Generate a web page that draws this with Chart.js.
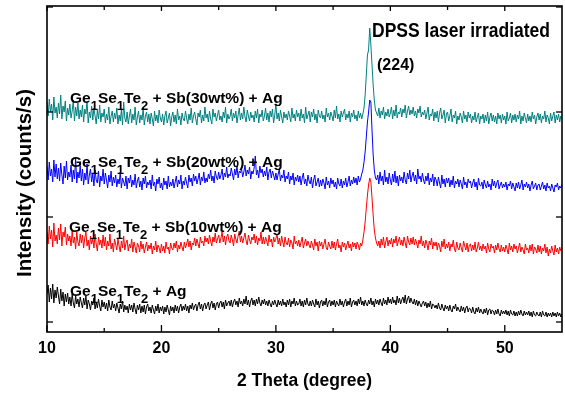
<!DOCTYPE html>
<html>
<head>
<meta charset="utf-8">
<script src="https://cdn.jsdelivr.net/npm/chart.js@4/dist/chart.umd.min.js"></script>
<style>
  html, body { margin: 0; padding: 0; background: #fff; }
  #wrap { width: 565px; height: 398px; }
</style>
</head>
<body>
<div id="wrap"><canvas id="c" width="565" height="398"></canvas></div>
<script>
// ---- Data ----
const xMajorTicks = [10, 20, 30, 40, 50];
const xTickLabels = ["10", "20", "30", "40", "50"];
const xMinorTicks = [15, 25, 35, 45];
const yTicks = [0, 1050, 2100, 3150];
// 2-theta sampling grid: 10.0 to 55.0 in 0.1 degree steps
const twoTheta = Array.from({ length: 451 }, (_, i) => +(10 + i * 0.1).toFixed(1));

const seriesNames = ["Ge1Se1Te2 + Ag", "Ge1Se1Te2 + Sb(10wt%) + Ag", "Ge1Se1Te2 + Sb(20wt%) + Ag", "Ge1Se1Te2 + Sb(30wt%) + Ag"];

const sb30 = [
2200,2060,2230,2100,2180,2020,2250,2090,2150,2040,
2190,2080,2270,2030,2160,2100,2210,2010,2140,2070,
2180,2040,2110,2220,2010,2150,2060,2190,2030,2120,
2050,2170,2000,2130,2080,2210,1990,2100,2040,2160,
2020,2140,2060,1980,2120,2030,2170,2000,2090,2050,
2130,1990,2080,2020,2150,1980,2060,2110,2000,2090,
2030,2140,1980,2070,2010,2120,1970,2200,2040,2000,
2100,1980,2060,2130,1990,2080,2020,2150,1970,2050,
2110,1990,2070,2020,2140,1970,2060,2100,2000,2080,
1980,2090,2030,1960,2110,2010,2070,1990,2120,2040,
2000,2080,1970,2060,2110,1990,2040,2090,1960,2050,
2100,2000,2070,1980,2130,2020,2060,1970,2090,2030,
2010,2110,2040,1980,2080,2020,2140,1990,2060,2100,
2030,1970,2090,2050,2120,1990,2070,2010,2150,2040,
2080,2000,2110,2030,1980,2130,2050,2090,2010,2070,
2120,2020,2060,2000,2100,2040,2150,1990,2080,2030,
2060,2130,2010,2090,2040,2110,1990,2070,2140,2020,
2090,2030,2150,2050,2000,2120,2060,2010,2100,2040,
2070,2000,2110,2040,2130,1990,2080,2050,2120,2010,
2060,2140,2020,2090,2000,2110,2050,2130,1990,2070,
2180,2030,2090,2010,2120,2050,1990,2100,2040,2080,
2020,2110,2060,2000,2140,2040,2080,2010,2120,2050,
2090,2010,2130,2040,2080,1990,2150,2030,2070,2110,
2000,2100,2050,2130,2020,2080,1990,2120,2060,2040,
2110,2030,2070,2000,2140,2050,2090,2020,2100,2060,
2010,2120,2040,2160,2030,2080,2000,2110,2050,2090,
2130,2020,2080,2040,2110,2000,2090,2050,2120,2030,
2070,2010,2110,2040,2090,2030,2080,2140,2270,2470,
2670,2720,2940,2770,2570,2370,2220,2120,2090,2060,
2140,2040,2110,2070,2150,2030,2100,2060,2130,2050,
2090,2150,2030,2120,2060,2170,2040,2100,2080,2140,
2050,2130,2090,2170,2040,2110,2160,2070,2120,2080,
2150,2060,2110,2040,2130,2090,2160,2050,2100,2070,
2120,2030,2090,2150,2020,2080,2060,2130,2010,2100,
2040,2110,2000,2090,2140,2030,2070,2120,1990,2080,
2100,2010,2060,2130,2000,2070,2040,2110,1980,2060,
2020,2090,2050,1990,2110,2030,2070,2000,2100,2040,
2080,1990,2060,2020,2100,2000,2050,2090,1980,2060,
2030,2080,1990,2070,2010,2100,1980,2050,2090,2010,
2070,2000,2060,1980,2090,2030,2070,1990,2080,2020,
2060,1980,2100,2010,2040,2090,1990,2070,2020,2080,
2000,2070,2030,2110,1980,2060,2010,2090,2040,1990,
2080,2010,2060,2000,2100,2030,2070,1980,2050,2090,
2020,2080,1990,2060,2030,2110,2000,2070,2040,1980,
2090,2010,2060,2100,1990,2070,2020,2080,2000,2060,
2030];

const sb20 = [
1560,1420,1600,1460,1530,1400,1620,1450,1580,1430,
1540,1410,1590,1470,1380,1560,1440,1610,1420,1500,
1450,1570,1400,1520,1430,1640,1390,1500,1440,1560,
1410,1530,1370,1490,1420,1580,1380,1470,1530,1400,
1480,1360,1520,1420,1390,1510,1350,1460,1410,1530,
1380,1490,1420,1340,1470,1400,1510,1360,1450,1390,
1470,1350,1430,1380,1500,1340,1440,1400,1360,1460,
1330,1440,1390,1470,1350,1420,1370,1480,1340,1410,
1450,1350,1410,1320,1440,1380,1460,1340,1400,1370,
1420,1330,1470,1360,1400,1310,1430,1380,1450,1340,
1390,1320,1440,1370,1410,1330,1460,1350,1400,1360,
1430,1340,1400,1460,1350,1420,1380,1470,1330,1410,
1370,1450,1390,1340,1470,1400,1440,1360,1480,1410,
1460,1380,1430,1490,1370,1450,1410,1500,1390,1440,
1400,1480,1430,1520,1410,1460,1390,1510,1450,1420,
1500,1430,1470,1530,1420,1490,1450,1550,1440,1480,
1460,1540,1480,1420,1530,1470,1560,1440,1510,1490,
1530,1450,1500,1570,1460,1520,1480,1550,1430,1510,
1480,1540,1660,1470,1520,1440,1560,1490,1530,1450,
1510,1460,1550,1420,1500,1530,1440,1510,1470,1420,
1490,1420,1480,1530,1410,1470,1440,1520,1400,1460,
1430,1500,1380,1460,1420,1490,1370,1450,1410,1470,
1400,1460,1370,1440,1490,1380,1430,1360,1470,1410,
1380,1450,1340,1420,1470,1360,1400,1440,1350,1420,
1360,1430,1390,1330,1450,1370,1410,1340,1440,1380,
1420,1350,1400,1330,1440,1380,1360,1430,1340,1410,
1370,1440,1350,1400,1460,1360,1420,1380,1450,1390,
1440,1370,1460,1400,1430,1480,1520,1600,1700,1850,
2000,2100,2220,2200,1920,1670,1520,1440,1420,1470,
1380,1500,1410,1460,1370,1520,1400,1450,1380,1490,
1420,1370,1480,1400,1510,1390,1460,1360,1470,1410,
1450,1390,1500,1420,1380,1490,1430,1520,1400,1460,
1500,1410,1470,1380,1530,1430,1460,1400,1490,1420,
1380,1460,1410,1490,1370,1440,1400,1480,1360,1450,
1420,1360,1450,1390,1340,1470,1380,1430,1350,1440,
1390,1440,1350,1420,1370,1460,1340,1410,1380,1430,
1350,1420,1380,1330,1450,1370,1400,1340,1430,1390,
1410,1340,1390,1430,1350,1400,1320,1440,1370,1360,
1400,1330,1420,1370,1340,1410,1350,1380,1320,1430,
1360,1410,1340,1390,1420,1330,1370,1400,1340,1380,
1350,1400,1320,1380,1360,1410,1330,1390,1350,1310,
1390,1340,1400,1330,1370,1420,1320,1380,1350,1400,
1340,1380,1310,1370,1410,1330,1360,1390,1320,1370,
1380,1320,1360,1400,1330,1370,1310,1390,1340,1360,
1310,1380,1340,1300,1370,1350,1390,1320,1360,1340,
1380];

const sb10 = [
900,780,960,830,920,750,990,810,870,780,
940,820,980,760,900,850,950,770,880,810,
860,760,910,790,850,730,900,800,760,880,
790,870,740,840,900,760,820,720,860,780,
830,740,880,780,710,850,770,820,740,870,
760,850,720,810,760,880,730,790,700,830,
780,720,830,760,700,810,740,860,720,790,
820,710,780,740,830,700,800,750,690,790,
760,700,810,730,780,690,750,800,710,770,
730,790,680,760,720,810,700,770,740,690,
780,710,760,690,800,730,750,680,790,740,
720,790,740,810,700,770,730,800,750,710,
800,740,780,830,750,810,720,790,770,840,
760,830,780,740,850,790,810,760,860,800,
840,780,870,810,760,850,800,890,790,830,
870,790,840,900,800,860,770,850,880,810,
790,870,820,760,880,830,790,860,910,800,
860,790,840,890,810,770,870,820,780,850,
820,880,790,860,770,840,810,900,780,850,
780,850,810,760,870,800,830,750,850,800,
830,880,780,840,760,860,800,750,850,790,
770,840,750,820,790,730,860,780,810,760,
820,750,800,850,740,790,830,760,810,770,
740,810,770,720,830,760,800,710,810,760,
800,730,780,830,740,720,800,760,730,810,
740,800,720,780,830,740,770,700,800,750,
790,720,770,810,740,780,710,800,750,790,
730,800,770,720,790,760,820,900,1000,1140,
1270,1370,1440,1400,1240,1070,920,840,790,760,
810,740,830,770,850,740,800,850,760,820,
780,840,750,830,790,860,760,810,850,770,
820,760,850,790,740,860,800,770,840,780,
850,770,830,790,740,820,780,860,760,810,
740,820,780,720,810,770,840,730,800,760,
800,720,790,760,700,810,750,830,730,780,
740,800,710,780,750,820,730,700,800,740,
720,790,740,700,810,760,720,790,700,770,
780,710,770,720,800,700,740,800,720,760,
710,780,730,760,690,790,730,700,780,740,
760,690,770,720,790,730,700,770,710,750,
700,770,730,680,790,720,760,700,780,730,
760,690,740,790,700,750,720,680,780,720,
740,690,770,710,780,680,750,730,690,770,
700,760,680,740,710,780,690,750,660,730,
690,760,710,670,770,700,740,680,750,710,
740];

const agOnly = [
280,370,200,340,230,380,190,320,240,350,
260,180,330,210,300,160,280,200,290,180,
250,160,280,190,140,260,180,230,150,250,
190,140,240,170,260,130,220,180,120,210,
170,240,130,200,140,230,160,110,220,150,
200,130,190,110,220,150,120,210,140,180,
110,190,140,90,180,130,210,100,170,120,
160,90,180,120,170,100,190,130,80,170,
120,180,90,160,100,170,80,150,180,110,
150,90,170,120,80,160,110,180,90,150,
110,160,80,150,100,170,120,70,160,110,
150,90,170,110,160,90,150,180,110,160,
120,180,110,160,90,170,130,190,120,160,
180,110,170,200,130,180,110,170,190,130,
170,200,120,180,210,140,190,120,180,200,
140,190,210,150,200,130,220,160,190,210,
160,220,150,200,230,170,210,150,240,180,
210,160,230,180,260,170,220,150,210,240,
170,220,160,230,180,250,190,160,220,180,
230,170,210,160,220,180,150,210,170,220,
180,150,220,170,210,160,230,170,200,150,
220,170,230,150,210,180,240,160,210,170,
180,230,160,210,150,220,170,240,180,160,
210,160,220,180,150,230,170,210,140,200,
220,160,210,170,240,150,200,220,160,210,
170,220,150,210,180,160,230,170,210,150,
200,230,160,210,170,240,150,200,220,170,
210,160,230,180,250,170,210,160,220,180,
160,220,180,240,170,210,150,230,180,220,
170,230,190,160,240,180,220,170,250,190,
230,180,250,190,220,170,260,190,240,180,
220,250,190,270,180,230,260,190,240,200,
180,230,170,220,160,210,180,150,190,210,
160,200,140,190,150,210,130,180,170,140,
170,130,190,140,120,180,140,110,170,130,
160,110,170,120,100,160,130,180,110,150,
120,100,160,110,150,90,140,160,100,140,
130,90,150,100,80,140,100,150,90,130,
100,80,130,90,140,70,120,130,80,120,
110,70,120,80,130,80,60,120,80,110,
80,120,70,110,60,120,80,70,110,60,
100,60,110,70,120,80,60,110,70,100,
70,110,60,100,50,110,70,60,100,70,
60,100,50,110,70,60,100,50,90,60,
90,50,100,60,90,50,100,60,90,50,
80];

const FONT = '"Liberation Sans", Arial, Helvetica, sans-serif';
Chart.defaults.font.family = FONT;
Chart.defaults.color = '#000';

function pts(vals) {
  const n = Math.min(vals.length, twoTheta.length);
  const out = [];
  for (let i = 0; i < n; i++) out.push({ x: twoTheta[i], y: vals[i] });
  return out;
}

// label texts: [text, isSubscript]
const labelParts = [
  [["Ge",0],["1",1],["Se",0],["1",1],["Te",0],["2",1],[" + Ag",0]],
  [["Ge",0],["1",1],["Se",0],["1",1],["Te",0],["2",1],[" + Sb(10wt%) + Ag",0]],
  [["Ge",0],["1",1],["Se",0],["1",1],["Te",0],["2",1],[" + Sb(20wt%) + Ag",0]],
  [["Ge",0],["1",1],["Se",0],["1",1],["Te",0],["2",1],[" + Sb(30wt%) + Ag",0]]
];
const labelPos = [[70, 296], [69, 232], [70, 167], [70, 103]];

const decor = {
  id: 'decor',
  afterDatasetsDraw(chart) {
    const { ctx, chartArea: a, scales: { x, y } } = chart;
    ctx.save();
    ctx.fillStyle = '#000';
    // series labels
    ctx.textBaseline = 'alphabetic';
    ctx.textAlign = 'left';
    labelParts.forEach((parts, k) => {
      let [px, py] = labelPos[k];
      parts.forEach(([t, sub]) => {
        ctx.font = sub ? 'bold 13px ' + FONT : 'bold 15.5px ' + FONT;
        ctx.fillText(t, px, sub ? py + 6.5 : py);
        px += ctx.measureText(t).width;
      });
    });
    // annotations
    ctx.font = 'bold 16px ' + FONT;
    ctx.textBaseline = 'middle';
    ctx.fillText('(224)', 377, 66);
    ctx.save();
    ctx.font = 'bold 19.5px ' + FONT;
    ctx.textBaseline = 'alphabetic';
    const t = 'DPSS laser irradiated';
    const w = ctx.measureText(t).width;
    ctx.translate(372, 37);
    ctx.scale(178 / w, 1);
    ctx.fillText(t, 0, 0);
    ctx.restore();
    // x tick labels (positions from the x scale)
    ctx.font = 'bold 16px ' + FONT;
    ctx.textAlign = 'center';
    ctx.textBaseline = 'alphabetic';
    xMajorTicks.forEach((v, i) => ctx.fillText(xTickLabels[i], x.getPixelForValue(v), a.bottom + 21));
    // x-axis title
    ctx.font = 'bold 17.5px ' + FONT;
    ctx.fillText('2 Theta (degree)', (a.left + a.right) / 2, a.bottom + 54);
    // y-axis title
    ctx.save();
    ctx.font = 'bold 20.5px ' + FONT;
    ctx.textAlign = 'center';
    ctx.textBaseline = 'middle';
    ctx.translate(25, 183);
    ctx.rotate(-Math.PI / 2);
    ctx.fillText('Intensity (counts/s)', 0, 0);
    ctx.restore();
    ctx.restore();

    // frame + inward ticks
    ctx.save();
    ctx.strokeStyle = '#000';
    ctx.lineWidth = 1.6;
    ctx.strokeRect(a.left, a.top, a.right - a.left, a.bottom - a.top);
    ctx.lineWidth = 1.3;
    const seg = (x1, y1, x2, y2) => { ctx.beginPath(); ctx.moveTo(x1, y1); ctx.lineTo(x2, y2); ctx.stroke(); };
    xMajorTicks.forEach(v => {
      const p = x.getPixelForValue(v);
      seg(p, a.bottom, p, a.bottom - 7);
      seg(p, a.top, p, a.top + 5);
    });
    xMinorTicks.forEach(v => {
      const p = x.getPixelForValue(v);
      seg(p, a.bottom, p, a.bottom - 4);
      seg(p, a.top, p, a.top + 4);
    });
    yTicks.forEach(v => {
      const p = y.getPixelForValue(v);
      seg(a.left, p, a.left + 6, p);
      seg(a.right, p, a.right - 6, p);
    });
    ctx.restore();
  }
};

const colors = ['#000000', '#ff0000', '#0000ff', '#008080'];
const seriesVals = [agOnly, sb10, sb20, sb30];

new Chart(document.getElementById('c'), {
  type: 'line',
  data: {
    datasets: seriesVals.map((v, i) => ({
      label: seriesNames[i],
      data: pts(v),
      borderColor: colors[i],
      backgroundColor: colors[i],
      borderWidth: 1,
      pointRadius: 0,
      tension: 0,
      fill: false
    }))
  },
  options: {
    responsive: false,
    animation: false,
    events: [],
    layout: { padding: { left: 47, right: 3, top: 6, bottom: 66 } },
    plugins: { legend: { display: false }, tooltip: { enabled: false } },
    scales: {
      x: {
        type: 'linear',
        min: 10, max: 55,
        afterBuildTicks: s => { s.ticks = xMajorTicks.map(v => ({ value: v })); },
        grid: { display: false, drawTicks: false, tickLength: 0 },
        border: { display: false },
        ticks: { display: false },
        title: { display: false }
      },
      y: {
        type: 'linear',
        min: -100, max: 3160,
        afterBuildTicks: s => { s.ticks = yTicks.map(v => ({ value: v })); },
        grid: { display: false, drawTicks: false, tickLength: 0 },
        border: { display: false },
        ticks: { display: false },
        title: { display: false }
      }
    }
  },
  plugins: [decor]
});
</script>
</body>
</html>
